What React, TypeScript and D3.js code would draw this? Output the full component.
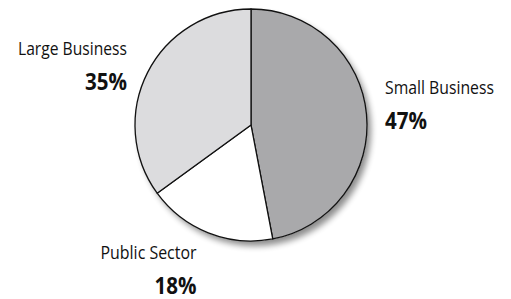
import React from "react";
import * as d3 from "d3";

const categories = ["Small Business", "Public Sector", "Large Business"];
const values = [47, 18, 35];
const colors = ["#a9a9ab", "#ffffff", "#dcdcde"];

const W = 511;
const H = 299;
const cx = 251;
const cy = 125;
const R = 116;

// label layout: [x, y of name baseline, anchor, name width]
const labelPos: [number, number, string, number][] = [
  [385, 94, "start", 109],
  [196.5, 259, "end", 96],
  [127, 55, "end", 109],
];

export default function App() {
  const pie = d3.pie<number>().sort(null).value((d) => d)(values);
  const arc = d3.arc<d3.PieArcDatum<number>>().innerRadius(0).outerRadius(R);
  const font = "'Open Sans', 'Noto Sans', sans-serif";
  return (
    <svg
      width={W}
      height={H}
      style={{ position: "absolute", left: 0, top: 0, background: "#fff" }}
    >
      <defs>
        <filter id="sh" x="-20%" y="-20%" width="150%" height="150%">
          <feGaussianBlur in="SourceAlpha" stdDeviation="3" />
          <feOffset dx="4" dy="5" result="b" />
          <feComponentTransfer>
            <feFuncA type="linear" slope="0.45" />
          </feComponentTransfer>
          <feMerge>
            <feMergeNode />
            <feMergeNode in="SourceGraphic" />
          </feMerge>
        </filter>
      </defs>
      <g transform={`translate(${cx},${cy})`}>
        <circle r={R} fill="#fff" filter="url(#sh)" />
        {pie.map((p, i) => (
          <path
            key={i}
            d={arc(p) || ""}
            fill={colors[i]}
            stroke="#111"
            strokeWidth={1.3}
            strokeLinejoin="round"
          />
        ))}
      </g>
      {categories.map((c, i) => {
        const [x, y, anchor, w] = labelPos[i];
        return (
          <g key={c} fontFamily={font} fill="#111">
            <text
              x={x}
              y={y}
              fontSize={19}
              textAnchor={anchor}
              textLength={w}
              lengthAdjust="spacingAndGlyphs"
            >
              {c}
            </text>
            <text
              x={x}
              y={y + 35}
              fontSize={24}
              fontWeight="bold"
              textAnchor={anchor}
              textLength={42}
              lengthAdjust="spacingAndGlyphs"
            >
              {values[i]}%
            </text>
          </g>
        );
      })}
    </svg>
  );
}
